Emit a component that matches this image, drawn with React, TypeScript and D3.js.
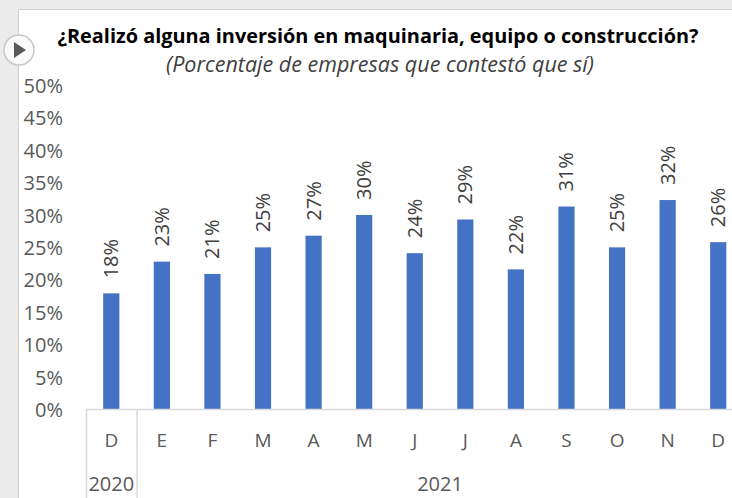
import * as d3 from "d3";
import { useEffect, useRef } from "react";

const months = ["D", "E", "F", "M", "A", "M", "J", "J", "A", "S", "O", "N", "D"];
const values = [18.0, 22.9, 21.0, 25.1, 26.9, 30.1, 24.2, 29.4, 21.7, 31.4, 25.1, 32.4, 25.9];
const years = [{ label: "2020", from: 0, to: 0 }, { label: "2021", from: 1, to: 12 }];
const yTicks = [0, 5, 10, 15, 20, 25, 30, 35, 40, 45, 50];

export default function App() {
    const svgRef = useRef(null);
    const width = 732;
    const height = 498;

    useEffect(() => {
        const svg = d3.select(svgRef.current);
        svg.selectAll("*").remove();

        const font = "'Open Sans', Lato, sans-serif";

        // background + panel
        svg.append("rect").attr("width", width).attr("height", height).attr("fill", "#ebebeb");
        svg.append("rect")
            .attr("x", 18.5).attr("y", 9.5)
            .attr("width", 760).attr("height", 520)
            .attr("fill", "white").attr("stroke", "#d0d0d0");

        const x = d3.scaleBand()
            .domain(months.map((m, i) => i + ""))
            .range([86, 743.5])
            .paddingInner(0.68)
            .paddingOuter(0.34);

        const y = d3.scaleLinear().domain([0, 50]).range([410, 86]);

        // y axis labels
        svg.append("g")
            .selectAll("text")
            .data(yTicks)
            .join("text")
            .attr("x", 63)
            .attr("y", d => y(d) + 7)
            .attr("text-anchor", "end")
            .attr("font-family", font)
            .attr("font-size", 20)
            .attr("fill", "#595959")
            .text(d => d + "%");

        // bars
        svg.append("g")
            .selectAll("rect")
            .data(values)
            .join("rect")
            .attr("x", (d, i) => x(i + ""))
            .attr("y", d => y(d))
            .attr("width", x.bandwidth())
            .attr("height", d => y(0) - y(d))
            .attr("fill", "#4472c4");

        // value labels
        svg.append("g")
            .selectAll("text")
            .data(values)
            .join("text")
            .attr("transform", (d, i) => `translate(${x(i + "") + x.bandwidth() / 2 + 7},${y(d) - 15}) rotate(-90)`)
            .attr("font-family", font)
            .attr("font-size", 20)
            .attr("fill", "#404040")
            .text(d => Math.round(d) + "%");

        // axis line
        const step = x.step();
        const left = 86;
        svg.append("line")
            .attr("x1", left).attr("x2", width)
            .attr("y1", 409.5).attr("y2", 409.5)
            .attr("stroke", "#d9d9d9").attr("stroke-width", 1.5);

        // year separators
        [0, 1].forEach(i => {
            const xx = left + i * step;
            svg.append("line")
                .attr("x1", xx + 0.5).attr("x2", xx + 0.5)
                .attr("y1", 409).attr("y2", height)
                .attr("stroke", "#d9d9d9").attr("stroke-width", 1.5);
        });

        // month labels
        svg.append("g")
            .selectAll("text")
            .data(months)
            .join("text")
            .attr("x", (d, i) => x(i + "") + x.bandwidth() / 2)
            .attr("y", 447)
            .attr("text-anchor", "middle")
            .attr("font-family", font)
            .attr("font-size", 19)
            .attr("fill", "#595959")
            .text(d => d);

        // year labels
        svg.append("g")
            .selectAll("text")
            .data(years)
            .join("text")
            .attr("x", d => left + (d.from * step + (d.to + 1) * step) / 2)
            .attr("y", 491)
            .attr("text-anchor", "middle")
            .attr("font-family", font)
            .attr("font-size", 20)
            .attr("fill", "#595959")
            .text(d => d.label);

        // titles
        svg.append("text")
            .attr("x", 378).attr("y", 43)
            .attr("text-anchor", "middle")
            .attr("font-family", font)
            .attr("font-size", 19.9)
            .attr("font-weight", "bold")
            .attr("fill", "#000")
            .text("¿Realizó alguna inversión en maquinaria, equipo o construcción?");
        svg.append("text")
            .attr("x", 380).attr("y", 72)
            .attr("text-anchor", "middle")
            .attr("font-family", font)
            .attr("font-size", 21.5)
            .attr("font-style", "italic")
            .attr("fill", "#404040")
            .text("(Porcentaje de empresas que contestó que sí)");

        // play button
        svg.append("circle")
            .attr("cx", 19).attr("cy", 50).attr("r", 15)
            .attr("fill", "#fafafa").attr("stroke", "#c8c8c8").attr("stroke-width", 1.5);
        svg.append("path")
            .attr("d", "M14,42 L26,50 L14,58 Z")
            .attr("fill", "#595959");
    }, []);

    return <svg ref={svgRef} width={width} height={height} style={{ display: "block", position: "absolute", top: 0, left: 0 }} />;
}
